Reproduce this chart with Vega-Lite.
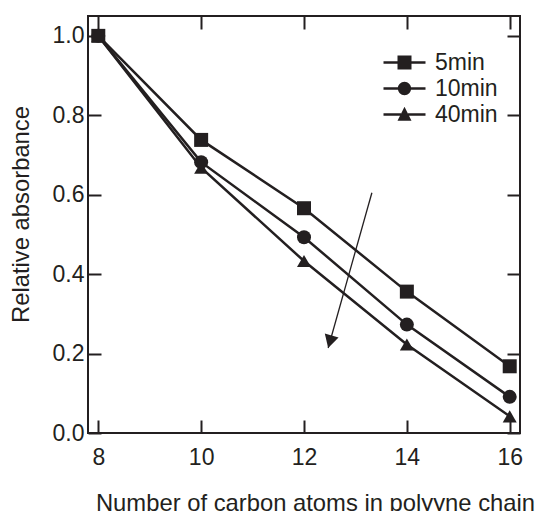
{
  "$schema": "https://vega.github.io/schema/vega-lite/v6.json",
  "width": 432,
  "height": 417,
  "autosize": {"type": "none"},
  "padding": {"left": 88, "top": 16, "right": 16, "bottom": 78},
  "background": "white",
  "config": {
    "view": {"stroke": "#231f20", "strokeWidth": 2},
    "axis": {
      "domain": false,
      "grid": false,
      "tickColor": "#231f20",
      "tickWidth": 2,
      "tickSize": 13,
      "offset": -13,
      "labelFont": "Liberation Sans",
      "labelFontSize": 23,
      "labelColor": "#231f20",
      "titleFont": "Liberation Sans",
      "titleFontSize": 23.8,
      "titleFontWeight": "normal",
      "titleColor": "#231f20"
    }
  },
  "datasets": {
    "series": [
      {"time": "40min", "carbon": 8, "absorbance": 1.0},
      {"time": "40min", "carbon": 10, "absorbance": 0.668},
      {"time": "40min", "carbon": 12, "absorbance": 0.433},
      {"time": "40min", "carbon": 14, "absorbance": 0.223},
      {"time": "40min", "carbon": 16, "absorbance": 0.042},
      {"time": "10min", "carbon": 8, "absorbance": 1.0},
      {"time": "10min", "carbon": 10, "absorbance": 0.682},
      {"time": "10min", "carbon": 12, "absorbance": 0.493},
      {"time": "10min", "carbon": 14, "absorbance": 0.273},
      {"time": "10min", "carbon": 16, "absorbance": 0.091},
      {"time": "5min", "carbon": 8, "absorbance": 1.0},
      {"time": "5min", "carbon": 10, "absorbance": 0.738},
      {"time": "5min", "carbon": 12, "absorbance": 0.566},
      {"time": "5min", "carbon": 14, "absorbance": 0.356},
      {"time": "5min", "carbon": 16, "absorbance": 0.168}
    ],
    "arrow": [
      {"x": 13.32, "y": 0.605, "x2": 12.47, "y2": 0.214}
    ]
  },
  "layer": [
    {
      "data": {"name": "series"},
      "mark": {"type": "line", "color": "#231f20", "strokeWidth": 2.5},
      "encoding": {
        "x": {
          "field": "carbon", "type": "quantitative",
          "scale": {"domain": [7.8, 16.2], "nice": false, "zero": false},
          "axis": {
            "orient": "bottom", "values": [8, 10, 12, 14, 16], "labelPadding": 13,
            "title": "Number of carbon atoms in polyyne chain",
            "titleX": 227, "titleY": 90, "titleBaseline": "alphabetic"
          }
        },
        "y": {
          "field": "absorbance", "type": "quantitative",
          "scale": {"domain": [0, 1.05], "nice": false},
          "axis": {
            "orient": "left", "values": [0, 0.2, 0.4, 0.6, 0.8, 1.0], "format": ".1f", "labelPadding": 4,
            "title": "Relative absorbance",
            "titleX": -73, "titleY": 198, "titleBaseline": "alphabetic", "titleAngle": 270
          }
        },
        "detail": {"field": "time", "type": "nominal"}
      }
    },
    {
      "data": {"name": "series"},
      "mark": {"type": "point", "filled": true, "opacity": 1, "color": "#231f20", "size": 196},
      "encoding": {
        "x": {
          "field": "carbon", "type": "quantitative",
          "scale": {"domain": [7.8, 16.2], "nice": false, "zero": false},
          "axis": {"orient": "top", "values": [8, 10, 12, 14, 16], "labels": false, "title": null}
        },
        "y": {
          "field": "absorbance", "type": "quantitative",
          "scale": {"domain": [0, 1.05], "nice": false},
          "axis": {"orient": "right", "values": [0, 0.2, 0.4, 0.6, 0.8, 1.0], "labels": false, "title": null}
        },
        "shape": {
          "field": "time", "type": "nominal",
          "scale": {"domain": ["5min", "10min", "40min"], "range": ["square", "circle", "triangle-up"]},
          "legend": null
        }
      }
    },
    {
      "data": {"name": "series"},
      "transform": [{"filter": "datum.carbon < 0"}],
      "mark": {"type": "point", "filled": true, "opacity": 1, "color": "#231f20", "size": 196},
      "encoding": {
        "x": {"field": "carbon", "type": "quantitative", "scale": {"domain": [7.8, 16.2], "nice": false, "zero": false}, "axis": null},
        "y": {"field": "absorbance", "type": "quantitative", "scale": {"domain": [0, 1.05], "nice": false}, "axis": null},
        "shape": {
          "field": "time", "type": "nominal",
          "scale": {
            "domain": ["5min", "10min", "40min"],
            "range": [
              "M-3,-0.18H-1V0.18H-3ZM1,-0.18H3V0.18H1ZM-1,-1H1V1H-1Z",
              "M-3,-0.18H-0.9V0.18H-3ZM0.9,-0.18H3V0.18H0.9ZM-0.95,0A0.95,0.95,0,1,1,0.95,0A0.95,0.95,0,1,1,-0.95,0Z",
              "M-3,-0.18H-0.5V0.18H-3ZM0.5,-0.18H3V0.18H0.5ZM0,-1.1L1,0.9L-1,0.9Z"
            ]
          },
          "legend": {
            "title": null,
            "orient": "none",
            "legendX": 305,
            "legendY": 35,
            "padding": 0,
            "symbolSize": 196,
            "symbolFillColor": "#231f20",
            "symbolOpacity": 1,
            "labelFont": "Liberation Sans",
            "labelFontSize": 23,
            "labelColor": "#231f20",
            "labelOffset": 19,
            "rowPadding": 2
          }
        }
      }
    },
    {
      "data": {"name": "arrow"},
      "mark": {"type": "rule", "color": "#231f20", "strokeWidth": 1.3},
      "encoding": {
        "x": {"field": "x", "type": "quantitative", "scale": {"domain": [7.8, 16.2], "nice": false, "zero": false}, "axis": null},
        "y": {"field": "y", "type": "quantitative", "scale": {"domain": [0, 1.05], "nice": false}, "axis": null},
        "x2": {"field": "x2"},
        "y2": {"field": "y2"}
      }
    },
    {
      "data": {"name": "arrow"},
      "mark": {"type": "point", "filled": true, "opacity": 1, "color": "#231f20", "strokeWidth": 0, "size": 676, "angle": 15.7, "shape": "M0,0L-0.55,-1L0.55,-1Z"},
      "encoding": {
        "x": {"field": "x2", "type": "quantitative", "scale": {"domain": [7.8, 16.2], "nice": false, "zero": false}, "axis": null},
        "y": {"field": "y2", "type": "quantitative", "scale": {"domain": [0, 1.05], "nice": false}, "axis": null}
      }
    }
  ],
  "resolve": {"axis": {"x": "independent", "y": "independent"}, "scale": {"shape": "independent"}}
}
